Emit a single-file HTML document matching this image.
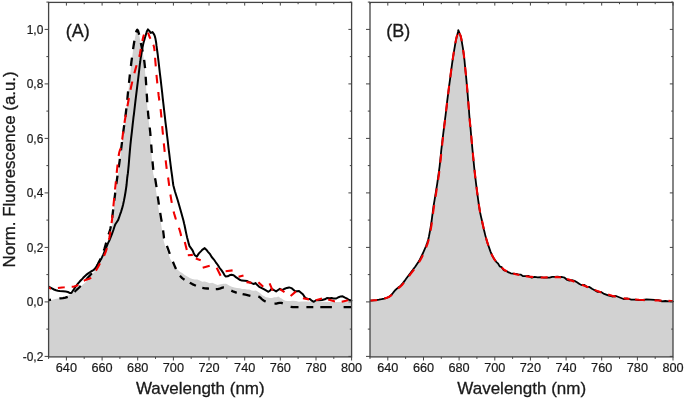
<!DOCTYPE html>
<html><head><meta charset="utf-8"><title>Normalized fluorescence</title>
<style>html,body{margin:0;padding:0;background:#fff}svg{display:block;filter:grayscale(0)}.t{stroke:#1a1a1a;stroke-width:.2px}.l{stroke:#1a1a1a;stroke-width:.3px}text{font-family:"Liberation Sans",Arial,sans-serif;fill:#1a1a1a}</style></head><body>
<svg width="685" height="402" viewBox="0 0 685 402">
<rect width="685" height="402" fill="#fff"/>
<polygon fill="#d2d2d2" points="48.6,356.9 48.6,300.6 52.7,299.7 55.4,299.1 58.0,298.5 60.4,297.9 62.9,297.4 65.4,296.7 67.9,295.7 70.4,294.3 72.9,292.6 75.4,290.7 77.9,288.7 80.4,286.7 82.9,284.6 85.3,282.4 87.8,279.8 90.4,276.8 93.0,273.5 95.5,270.1 97.8,266.8 99.7,263.6 101.4,260.5 102.9,257.3 104.3,254.0 105.5,250.6 106.6,247.1 107.6,243.6 108.6,240.0 109.6,236.6 110.6,233.2 111.5,229.5 112.3,225.0 113.0,219.3 113.6,212.8 114.2,206.1 114.8,200.0 115.4,194.8 116.0,190.0 116.6,185.2 117.3,180.0 118.1,174.0 118.9,167.6 119.8,161.2 120.6,155.0 121.3,149.3 122.0,143.9 122.6,138.5 123.3,133.0 124.1,127.4 124.9,121.7 125.7,115.9 126.4,110.0 127.1,103.8 127.7,97.5 128.4,91.2 129.0,85.0 129.6,79.0 130.3,73.2 130.9,67.5 131.6,62.0 132.3,56.6 132.9,51.3 133.6,46.4 134.3,42.0 135.0,37.8 135.8,33.8 136.5,30.9 138.1,30.9 138.9,33.8 139.7,37.8 140.5,42.0 141.4,46.4 142.4,51.3 143.4,56.6 144.2,62.0 144.8,67.5 145.2,73.2 145.6,79.0 146.0,85.0 146.4,91.2 146.8,97.5 147.1,103.8 147.6,110.0 148.1,115.6 148.7,120.8 149.4,126.3 150.0,133.0 150.7,141.9 151.4,152.3 152.2,162.3 152.8,170.0 153.3,174.0 154.1,177.1 154.6,180.0 155.3,185.2 156.2,191.6 157.1,198.4 158.0,205.0 159.0,211.6 160.1,218.4 161.2,224.8 162.0,230.0 162.5,233.6 162.8,236.1 163.1,238.0 163.5,240.0 164.0,242.0 165.0,245.6 165.9,247.9 167.1,251.0 168.6,254.2 170.2,258.8 171.9,261.7 173.7,264.9 175.7,267.9 177.7,269.7 179.9,271.8 182.2,273.1 184.7,275.0 187.3,276.6 189.8,278.0 192.3,279.1 194.8,279.4 197.3,279.6 199.8,280.4 202.3,281.8 204.8,281.4 207.2,282.2 209.7,283.2 212.3,282.7 215.1,284.0 217.6,285.0 219.7,284.4 221.9,284.0 223.6,283.8 226.2,283.8 229.6,285.7 231.8,286.8 234.4,287.5 237.0,288.0 239.6,288.3 242.1,289.1 244.7,289.1 247.1,289.4 249.5,289.5 251.8,290.4 253.9,290.7 255.9,290.6 257.7,291.5 260.0,293.0 262.3,295.2 264.0,296.0 265.9,297.2 267.9,297.5 269.9,298.0 272.0,298.1 274.2,297.2 276.4,297.3 278.4,296.4 280.1,297.8 281.7,298.5 283.3,299.7 285.3,300.8 287.6,301.1 290.1,301.1 292.9,300.7 296.0,300.9 298.9,301.8 301.8,301.6 305.6,301.6 311.3,301.7 320.6,301.8 332.4,302.0 343.8,302.1 351.6,302.2 351.6,302.2 351.6,356.9"/>
<path fill="none" stroke="#000" stroke-width="2.30" stroke-linejoin="round" d="M48.6,300.0L50.3,299.8L51.0,299.7M59.4,298.4L60.4,298.3L62.9,298.1L65.4,297.6L67.7,296.8M74.5,291.8L75.4,291.0L77.9,288.7L80.4,286.2L80.7,285.9M86.3,279.6L87.8,277.8L89.9,275.4L91.9,273.2M96.7,266.2L97.8,264.2L99.8,260.2L100.5,258.6M103.8,250.7L104.6,248.4L105.6,244.8L106.2,242.6M108.6,234.5L109.4,232.2L110.3,229.1L110.9,226.3M112.2,217.9L112.8,212.9L113.2,209.4M114.2,201.0L114.3,200.0L115.0,194.8L115.2,192.6M116.3,184.1L116.9,180.0L117.5,175.7M118.7,167.3L119.6,161.2L119.9,158.9M121.0,150.4L121.1,149.3L121.8,143.9L122.0,142.0M123.0,133.6L123.1,133.0L123.9,127.4L124.2,125.1M125.3,116.7L125.5,115.9L126.2,110.0L126.4,108.3M127.3,99.8L127.5,97.5L128.1,91.4M129.0,82.9L129.4,79.0L129.9,74.5M130.9,66.0L131.4,62.0L132.0,57.6M133.1,49.2L133.5,46.4L134.2,42.0L134.4,40.8M136.1,32.4L136.5,30.9L137.3,29.7L138.1,30.9L138.9,33.8L139.1,34.8M140.8,43.1L141.6,46.4L142.6,51.3L142.6,51.4M144.1,59.8L144.4,62.0L145.0,67.5L145.1,68.2M145.7,76.7L145.8,79.0L146.2,85.0L146.2,85.2M146.7,93.7L147.0,97.5L147.2,102.2M147.9,110.6L148.3,115.6L148.8,119.1M149.7,127.5L150.3,133.0L150.5,136.0M151.2,144.5L151.8,152.3L151.9,152.9M152.5,161.4L152.6,162.3L153.3,169.9M155.0,178.2L155.4,180.0L156.2,185.2L156.5,187.2M157.7,196.3L158.0,198.4L158.9,204.6M160.2,212.9L161.1,218.4L161.7,221.7M163.1,230.4L163.5,233.7L163.8,236.2L164.0,238.1L164.1,238.4M166.9,245.9L168.1,249.2L169.6,253.3L169.8,253.9M172.9,261.8L174.5,265.6L176.0,269.0M179.9,275.8L182.2,278.1L184.5,279.7M189.8,282.7L192.3,284.1L194.8,285.3L195.9,285.8M202.3,287.9L204.9,288.3L207.4,288.5L209.0,288.6M215.8,289.2L217.7,289.1L219.7,288.7L221.6,287.9L223.6,287.4L223.9,287.4M231.3,290.6L233.6,291.7L236.3,292.6L236.8,292.7M242.6,294.1L245.5,294.7L248.3,295.3L250.4,295.8M258.3,296.5L259.2,296.8L260.3,297.6L261.5,298.8L262.9,300.0L264.6,301.1L265.7,301.5M274.5,303.7L276.4,303.6L278.0,303.2L279.6,302.8L281.4,302.9L282.8,303.4M290.6,306.8L292.9,307.2L295.2,307.2L297.5,307.2L298.5,307.2M306.4,307.2L311.3,307.2L313.3,307.2M320.3,307.2L331.9,307.2M343.6,307.2L351.5,307.2"/>
<polyline fill="none" stroke="#000" stroke-width="2.00" stroke-linejoin="round" points="48.6,286.7 51.9,288.4 54.0,289.5 56.0,290.3 57.8,290.7 59.7,291.0 63.0,291.3 65.7,291.6 67.9,292.0 69.6,292.9 71.4,293.0 72.9,290.7 75.1,287.5 76.4,285.6 77.9,283.7 79.5,281.8 81.4,279.8 83.2,277.8 84.8,276.2 86.2,274.9 88.6,273.1 91.0,271.5 93.4,270.2 94.8,268.8 96.4,266.7 98.2,264.0 100.0,261.0 101.7,257.9 103.4,254.4 105.0,250.5 106.5,246.8 107.7,243.9 108.5,242.1 109.5,240.2 110.6,237.4 111.3,235.7 112.0,233.9 112.7,232.0 113.4,230.0 114.1,227.8 114.8,225.7 115.5,224.0 116.7,222.2 118.2,219.9 119.0,217.7 120.3,213.8 121.2,211.3 122.1,208.4 123.0,205.0 123.9,200.9 124.8,196.2 125.6,191.5 126.2,187.5 126.6,184.5 126.8,182.2 127.0,180.1 127.2,178.0 127.6,175.0 127.9,173.2 128.2,170.0 128.7,164.9 129.2,158.6 129.8,151.6 130.4,145.0 131.1,138.4 131.9,131.6 132.6,125.2 133.2,120.0 133.5,117.1 133.9,114.3 134.4,110.0 135.4,101.4 136.8,89.9 138.2,78.5 139.2,70.0 139.7,65.7 139.9,63.9 140.2,62.0 140.6,58.7 141.2,55.0 141.6,52.6 142.0,49.9 142.6,47.1 143.1,44.5 143.7,42.0 144.4,39.6 145.1,37.3 145.7,35.3 146.3,33.4 146.8,31.5 147.9,29.4 149.3,30.9 150.8,33.0 152.5,32.0 154.2,34.6 154.9,36.4 155.4,38.4 155.8,40.6 156.2,43.0 156.5,45.7 156.9,48.6 157.3,51.5 157.7,54.4 158.1,57.8 158.6,62.0 159.2,67.3 159.9,73.3 160.7,79.8 161.4,86.0 162.1,92.0 162.7,97.9 163.4,103.9 164.1,110.0 164.8,116.2 165.5,122.4 166.3,128.7 167.0,135.0 167.8,141.4 168.5,147.8 169.3,154.1 170.0,160.0 170.7,165.6 171.4,171.1 172.1,176.0 172.6,180.0 172.9,182.5 173.3,185.2 173.9,187.5 174.9,191.2 176.3,195.7 177.8,200.5 179.1,205.0 180.3,209.2 181.5,213.4 182.6,217.4 183.5,220.8 184.1,223.5 184.6,225.5 185.0,227.5 185.5,230.0 186.2,233.4 187.1,237.4 188.0,240.7 188.8,243.9 189.5,246.1 191.0,248.1 192.7,250.6 193.7,253.2 194.8,255.2 196.8,256.6 198.9,253.4 201.1,251.1 202.2,249.8 204.7,248.1 206.3,249.7 208.0,251.8 209.8,253.8 211.7,257.0 213.7,259.3 215.8,262.3 217.8,265.0 219.7,268.0 221.4,270.2 222.9,272.3 224.3,274.8 225.6,276.5 227.7,276.3 229.5,275.3 231.4,274.8 233.6,275.3 236.2,277.4 237.8,278.4 239.6,279.8 241.9,280.6 244.7,280.8 247.3,281.1 249.5,282.3 252.2,283.4 253.8,284.0 255.4,283.0 256.8,284.6 259.2,286.8 261.3,287.8 263.8,289.2 266.4,290.7 268.4,291.8 270.2,290.5 271.5,288.9 273.8,290.0 276.1,291.4 278.1,290.0 279.9,288.8 282.2,290.1 284.8,288.7 286.8,287.9 289.1,287.4 291.4,288.1 293.4,289.8 295.2,291.3 297.1,291.3 299.0,291.0 301.0,292.7 302.9,294.3 304.4,296.6 305.9,298.1 307.8,299.0 309.8,299.0 311.3,300.3 313.8,301.8 316.1,300.2 318.9,300.2 322.1,299.9 324.8,299.3 326.9,298.1 329.8,298.2 331.6,298.0 333.4,298.5 336.3,298.5 338.6,297.2 340.7,296.4 342.6,296.3 345.0,297.6 346.6,298.3 349.2,300.0 351.5,300.4 351.5,300.2"/>
<path fill="none" stroke="#f00000" stroke-width="2.10" stroke-linejoin="round" d="M48.6,287.3L49.1,287.6L49.8,288.1L50.7,288.5L51.0,288.5M57.9,288.0L60.0,287.7L62.0,287.5L64.0,287.3L64.7,287.2M71.7,286.8L72.0,286.8L73.9,286.6L75.9,286.1L77.9,285.0L78.2,284.8M83.8,280.7L85.7,279.9L87.5,279.3L89.2,278.8L90.8,277.8L91.0,277.6M95.9,270.6L97.0,268.7L98.3,266.5L99.5,264.2L99.9,263.3M104.0,255.8L104.5,254.7L105.7,251.9L106.7,248.8L106.9,248.0M108.9,239.7L109.3,238.0L110.1,233.8L110.4,231.5M111.6,223.1L112.0,220.0L112.5,215.1L112.6,214.8M113.4,206.3L113.5,205.0L114.0,200.0L114.2,198.0M115.0,189.5L115.5,185.3L115.9,181.3M116.7,172.8L117.3,167.2L117.6,164.5M118.6,156.0L118.7,155.5L119.3,152.2L119.9,150.3L120.6,148.3L120.7,147.9M122.1,139.6L122.2,139.5L123.1,132.7L123.3,131.3M124.5,122.9L124.9,120.0L125.6,116.1L125.8,114.6M127.4,106.3L128.1,102.5L128.9,98.0M130.5,89.7L131.0,87.2L132.2,82.0L132.3,81.5M134.4,73.3L134.8,71.6L136.0,67.3L136.6,65.2M139.2,57.1L139.3,56.7L139.7,54.9L140.0,53.5L140.2,52.2L140.5,50.6L140.8,48.9M142.4,41.0L142.5,40.2L143.0,38.0L143.5,36.0L144.0,34.6M148.1,32.7L148.5,33.8L149.1,35.7L149.7,37.3L150.4,38.6L150.5,38.8M153.3,44.8L153.4,45.0L153.9,46.5L154.3,48.6L154.6,51.2M155.1,57.8L155.1,58.0L155.4,62.0L155.8,66.3M156.5,74.9L156.7,77.2L157.2,82.2L157.3,83.4M158.3,92.0L158.7,95.9L159.2,99.7L159.3,100.5M160.6,109.1L160.7,110.0L161.3,116.1L161.4,117.5M162.2,126.2L162.7,132.0L163.0,134.7M163.8,143.3L164.3,148.0L164.7,151.8M165.7,160.4L166.1,164.0L166.7,168.9M168.1,177.5L168.3,178.8L168.8,182.6L169.2,185.9M170.4,194.5L170.7,196.3L171.4,200.7L171.8,202.9M173.6,211.4L174.2,213.8L175.6,218.4L176.0,219.5M178.9,227.8L180.0,231.3L180.8,234.3L181.1,236.0"/>
<path fill="none" stroke="#f00000" stroke-width="2.10" stroke-linejoin="round" d="M184.8,241.9L186.8,249.9M187.8,255.3L192.8,254.9M195.8,258.5L200.7,260.2M202.7,267.8L209.7,265.8M216.7,267.8L220.6,275.8M225.6,271.2L232.6,270.4M238.6,276.8L243.5,275.4M246.5,282.1L251.5,282.7M258.4,282.3L263.2,286.8M269.6,283.3L272.7,290.7M279.9,289.1L284.5,292.2M290.6,296.0L296.0,291.4M302.9,298.3L309.0,299.4M315.9,300.2L322.0,298.6M328.2,299.5L335.0,301.4M341.7,301.7L348.1,300.2"/>
<rect x="48.6" y="2.4" width="303.0" height="354.5" fill="none" stroke="#444444" stroke-width="1.3"/>
<path d="M48.6,356.9v2.0M48.6,2.4v1.8M66.4,356.9v3.6M66.4,2.4v3.2M84.2,356.9v2.0M84.2,2.4v1.8M102.1,356.9v3.6M102.1,2.4v3.2M119.9,356.9v2.0M119.9,2.4v1.8M137.7,356.9v3.6M137.7,2.4v3.2M155.5,356.9v2.0M155.5,2.4v1.8M173.4,356.9v3.6M173.4,2.4v3.2M191.2,356.9v2.0M191.2,2.4v1.8M209.0,356.9v3.6M209.0,2.4v3.2M226.8,356.9v2.0M226.8,2.4v1.8M244.7,356.9v3.6M244.7,2.4v3.2M262.5,356.9v2.0M262.5,2.4v1.8M280.3,356.9v3.6M280.3,2.4v3.2M298.1,356.9v2.0M298.1,2.4v1.8M316.0,356.9v3.6M316.0,2.4v3.2M333.8,356.9v2.0M333.8,2.4v1.8M351.6,356.9v3.6M351.6,2.4v3.2M48.6,356.4h-4.0M351.6,356.4h-3.2M48.6,329.1h-2.2M351.6,329.1h-1.8M48.6,301.9h-4.0M351.6,301.9h-3.2M48.6,274.6h-2.2M351.6,274.6h-1.8M48.6,247.4h-4.0M351.6,247.4h-3.2M48.6,220.1h-2.2M351.6,220.1h-1.8M48.6,192.9h-4.0M351.6,192.9h-3.2M48.6,165.6h-2.2M351.6,165.6h-1.8M48.6,138.4h-4.0M351.6,138.4h-3.2M48.6,111.1h-2.2M351.6,111.1h-1.8M48.6,83.9h-4.0M351.6,83.9h-3.2M48.6,56.6h-2.2M351.6,56.6h-1.8M48.6,29.4h-4.0M351.6,29.4h-3.2M48.6,2.1h-2.2M351.6,2.1h-1.8" stroke="#444444" stroke-width="1" fill="none"/>
<text x="66.4" y="371.8" font-size="12.7" class="t" text-anchor="middle">640</text>
<text x="102.1" y="371.8" font-size="12.7" class="t" text-anchor="middle">660</text>
<text x="137.7" y="371.8" font-size="12.7" class="t" text-anchor="middle">680</text>
<text x="173.4" y="371.8" font-size="12.7" class="t" text-anchor="middle">700</text>
<text x="209.0" y="371.8" font-size="12.7" class="t" text-anchor="middle">720</text>
<text x="244.7" y="371.8" font-size="12.7" class="t" text-anchor="middle">740</text>
<text x="280.3" y="371.8" font-size="12.7" class="t" text-anchor="middle">760</text>
<text x="316.0" y="371.8" font-size="12.7" class="t" text-anchor="middle">780</text>
<text x="351.6" y="371.8" font-size="12.7" class="t" text-anchor="middle">800</text>
<text transform="translate(43.3,360.8) scale(0.94,1)" font-size="12.7" class="t" text-anchor="end">-0,2</text>
<text transform="translate(43.3,306.3) scale(0.94,1)" font-size="12.7" class="t" text-anchor="end">0,0</text>
<text transform="translate(43.3,251.8) scale(0.94,1)" font-size="12.7" class="t" text-anchor="end">0,2</text>
<text transform="translate(43.3,197.3) scale(0.94,1)" font-size="12.7" class="t" text-anchor="end">0,4</text>
<text transform="translate(43.3,142.8) scale(0.94,1)" font-size="12.7" class="t" text-anchor="end">0,6</text>
<text transform="translate(43.3,88.3) scale(0.94,1)" font-size="12.7" class="t" text-anchor="end">0,8</text>
<text transform="translate(43.3,33.8) scale(0.94,1)" font-size="12.7" class="t" text-anchor="end">1,0</text>
<text x="200.3" y="394.3" font-size="17" class="l" text-anchor="middle">Wavelength (nm)</text>
<polygon fill="#d2d2d2" points="370.0,356.9 370.0,300.6 371.6,300.5 373.9,300.3 376.5,300.1 379.0,299.7 381.6,299.2 384.3,298.6 387.0,297.8 389.3,296.7 391.3,295.2 393.0,293.3 394.6,291.4 396.2,289.7 397.7,288.4 399.2,287.3 400.6,286.1 402.1,284.7 403.6,282.9 405.1,280.9 406.6,278.8 408.2,276.8 409.7,274.8 411.2,272.9 412.7,270.9 414.2,268.8 415.7,266.7 417.3,264.5 418.7,262.2 420.1,259.9 421.4,257.5 422.6,255.0 423.8,252.4 424.8,249.9 425.8,247.5 426.7,245.3 427.6,242.8 428.4,240.0 429.2,236.7 430.0,233.0 430.7,229.1 431.4,225.0 431.9,221.0 432.4,217.1 433.0,212.6 433.7,207.0 434.9,199.9 436.2,191.8 437.5,183.1 438.8,174.7 439.8,166.5 440.7,158.2 441.5,150.0 442.4,142.3 443.2,134.9 444.1,127.7 444.9,121.0 445.6,115.0 446.2,110.0 446.7,105.8 447.2,101.8 447.7,97.2 448.4,91.9 449.1,86.1 449.9,80.3 450.6,74.8 451.3,69.5 452.0,64.4 452.7,59.5 453.4,54.9 454.1,50.6 454.8,46.6 455.4,43.0 456.0,39.9 456.5,37.6 457.0,35.8 457.4,34.4 457.7,33.2 458.0,32.0 458.1,30.9 458.3,30.1 458.5,29.8 458.7,30.2 458.9,31.0 459.1,32.1 459.4,33.2 459.7,33.9 460.1,34.6 460.5,35.6 461.0,37.4 461.6,40.3 462.2,44.1 462.9,48.2 463.5,52.4 464.0,56.4 464.5,60.5 464.9,64.9 465.4,69.8 466.0,75.6 466.6,82.1 467.2,88.6 467.7,94.7 468.1,99.9 468.5,104.7 468.9,109.5 469.3,115.0 469.8,121.2 470.5,127.9 471.1,135.0 471.8,142.3 472.5,150.0 473.3,158.2 474.1,166.5 475.0,174.7 476.0,183.2 477.1,191.9 478.2,200.1 479.2,207.0 480.1,212.4 481.0,216.6 481.8,220.0 482.5,223.2 483.1,225.9 483.6,228.1 484.0,230.0 484.5,232.0 485.0,234.1 485.5,236.1 486.1,238.3 486.9,240.9 487.9,244.2 489.2,247.9 490.5,251.6 491.9,254.9 493.3,257.5 494.7,259.8 496.2,261.8 497.9,263.8 499.7,265.8 501.6,267.6 503.6,269.3 505.8,270.8 508.2,271.9 510.7,272.8 513.3,273.5 515.8,274.2 518.2,274.8 520.6,275.3 523.1,275.8 525.7,276.2 528.6,276.6 531.6,276.9 534.7,277.2 537.7,277.4 540.7,277.5 543.8,277.5 546.8,277.4 549.6,277.4 552.2,277.3 554.7,277.1 557.2,277.1 559.6,277.2 562.1,277.6 564.6,278.2 567.0,279.0 569.5,279.8 572.0,280.7 574.5,281.7 577.0,282.7 579.5,283.7 581.9,284.7 584.4,285.7 586.8,286.7 589.4,287.7 592.0,288.8 594.7,289.9 597.6,291.1 600.7,292.2 604.2,293.4 608.1,294.6 612.1,295.8 616.0,296.8 619.8,297.6 623.6,298.2 627.5,298.7 631.3,299.1 635.1,299.5 638.9,299.8 642.8,300.0 646.6,300.2 650.5,300.3 654.6,300.4 658.5,300.5 662.0,300.6 665.3,300.7 668.5,300.9 671.1,301.0 673.0,301.1 673.0,356.9"/>
<polyline fill="none" stroke="#000" stroke-width="1.80" stroke-linejoin="round" points="370.0,300.6 373.9,300.3 376.5,300.1 379.0,299.7 381.6,299.2 384.2,298.6 386.8,297.8 389.1,296.7 391.0,295.2 392.7,293.3 394.2,291.4 395.7,289.7 397.2,288.4 398.6,287.3 400.1,286.1 401.6,284.7 403.1,282.9 404.6,280.9 406.1,278.8 407.6,276.8 409.1,274.8 410.6,272.9 412.1,270.9 413.6,268.8 415.2,266.7 416.7,264.5 418.2,262.2 419.6,259.9 420.9,257.5 422.1,255.0 423.3,252.4 424.4,249.9 425.4,247.5 426.3,245.3 427.2,242.8 428.1,240.0 428.9,236.7 429.6,233.0 430.3,229.1 431.0,225.0 431.6,221.0 432.1,217.1 432.7,212.6 433.4,207.0 434.6,199.9 435.9,191.8 437.3,183.1 438.5,174.7 439.6,166.5 440.5,158.2 441.3,150.0 442.2,142.3 443.1,134.9 444.0,127.7 444.8,121.0 445.6,115.0 446.2,110.0 446.7,105.8 447.1,101.8 447.7,97.2 448.4,91.9 449.1,86.1 449.9,80.3 450.6,74.8 451.3,69.5 452.0,64.4 452.7,59.5 453.4,54.9 454.1,50.6 454.8,46.6 455.4,43.0 456.0,39.9 456.5,37.6 457.4,34.4 458.0,32.0 458.3,30.1 459.1,32.1 459.7,33.9 460.5,35.6 461.0,37.4 461.6,40.3 462.2,44.1 462.9,48.2 463.5,52.4 464.0,56.4 464.5,60.5 464.9,64.9 465.4,69.8 466.0,75.6 466.6,82.1 467.2,88.6 467.7,94.7 468.1,99.9 468.5,104.7 468.9,109.5 469.3,115.0 469.8,121.2 470.5,127.9 471.1,135.0 471.8,142.3 472.5,150.0 473.3,158.2 474.1,166.5 475.0,174.7 476.0,183.2 477.1,191.9 478.2,200.1 479.2,207.0 480.1,212.4 481.0,216.6 481.8,220.0 482.5,223.2 483.1,225.9 483.6,228.1 484.0,230.0 484.5,232.0 485.0,234.1 485.5,236.1 486.1,238.3 486.9,240.9 487.9,244.2 489.2,247.9 490.5,251.6 491.9,254.9 493.3,257.5 494.7,259.8 496.2,261.8 497.9,263.3 499.7,266.4 501.6,267.1 503.6,270.1 505.8,270.8 508.2,272.1 510.7,273.3 513.3,273.6 515.8,273.9 518.2,274.3 520.6,274.6 523.1,276.2 525.7,276.1 528.6,276.0 531.6,277.6 534.7,276.8 537.7,277.3 540.7,277.1 543.8,277.7 546.8,277.6 549.6,277.6 552.2,276.9 554.7,276.8 557.2,276.6 559.6,276.9 562.1,277.0 564.6,277.7 567.0,279.8 569.5,280.6 572.0,280.2 574.5,280.9 577.0,282.2 579.5,284.0 581.9,285.2 584.4,284.9 586.8,286.8 589.4,286.9 592.0,288.8 594.7,290.2 597.6,291.9 600.7,291.8 604.2,293.9 608.1,295.3 612.1,296.5 616.0,296.0 619.8,297.5 623.6,299.0 627.5,298.5 631.3,299.6 635.1,299.6 638.9,300.2 642.8,300.0 646.6,299.4 650.5,299.6 654.6,299.8 658.5,300.1 662.0,301.4 665.3,301.0 668.5,301.4 671.1,301.1 673.0,301.3 673.0,301.1"/>
<path fill="none" stroke="#f00000" stroke-width="2.10" stroke-linejoin="round" d="M370.0,300.6L371.6,300.5L373.9,300.3L376.5,300.1L377.2,300.0M384.3,298.6L384.3,298.6L387.0,297.8L389.4,296.7L391.4,295.2L391.9,294.6M398.0,288.4L399.4,287.3L400.9,286.1L402.3,284.7L403.8,282.9L404.0,282.7M409.0,276.1L409.9,274.8L411.4,272.9L413.0,270.9L414.1,269.3M419.0,262.2L419.0,262.2L420.4,259.9L421.7,257.5L422.9,255.0L422.9,255.0M426.1,247.4L426.9,245.3L427.8,242.8L428.6,240.0L428.8,239.2M430.5,230.8L430.8,229.1L431.5,225.0L431.9,222.3M433.0,213.8L433.1,212.6L433.9,207.0L434.2,205.2M435.5,196.8L436.3,191.8L436.8,188.3M438.1,179.8L438.9,174.7L439.3,171.2M440.3,162.7L440.8,158.2L441.2,154.1M442.1,145.6L442.4,142.3L443.0,137.0M444.0,128.5L444.1,127.7L444.9,121.0L445.1,120.0M446.1,111.4L446.2,110.0L446.7,105.8L447.0,102.9M448.1,94.3L448.4,91.9L449.1,86.1L449.1,85.8M450.3,77.3L450.6,74.8L451.3,69.5L451.4,68.7M452.6,60.2L452.7,59.5L453.4,54.9L453.9,51.7M455.4,43.2L455.4,43.0L456.0,39.9L456.5,37.6L457.0,35.8L457.3,34.8M459.4,33.1L459.4,33.2L459.7,33.9L460.1,34.6L460.5,35.6L461.0,37.4L461.6,40.3L461.8,41.3M463.1,49.8L463.5,52.4L464.0,56.4L464.2,58.4M465.1,67.0L465.4,69.8L466.0,75.5M466.8,84.1L467.2,88.6L467.5,92.7M468.2,101.3L468.5,104.7L468.9,109.5L468.9,109.8M469.6,118.4L469.8,121.2L470.4,127.0M471.2,135.5L471.8,142.3L472.0,144.1M472.8,152.7L473.3,158.2L473.6,161.2M474.5,169.8L475.0,174.7L475.4,178.3M476.5,186.9L477.1,191.9L477.6,195.4M478.7,203.9L479.2,207.0L480.1,212.4L480.1,212.4M482.0,220.8L482.5,223.2L483.1,225.9L483.6,228.1L483.8,229.2M485.9,237.5L486.1,238.3L486.9,240.9L487.9,244.2L488.5,245.7M491.4,253.8L491.9,254.9L493.3,257.5L494.7,259.8L495.8,261.2M501.6,267.6L503.6,269.3L505.8,270.8L507.0,271.4M513.3,273.5L515.8,274.2L518.2,274.8L519.4,275.1M525.7,276.2L528.6,276.6L531.6,276.9L533.2,277.1M540.7,277.5L543.8,277.5L546.8,277.4L547.7,277.4M554.7,277.1L557.2,277.1L559.6,277.2L561.0,277.4M567.0,279.0L569.5,279.8L572.0,280.7L574.5,281.7L574.5,281.7M581.9,284.7L584.4,285.7L586.8,286.7L588.3,287.3M594.7,289.9L597.6,291.1L600.7,292.2L601.4,292.4M608.1,294.6L612.1,295.8L615.8,296.7M623.6,298.2L627.5,298.7L629.4,298.9M635.1,299.5L638.9,299.8L642.8,300.0L644.8,300.1M654.6,300.4L658.5,300.5L661.5,300.6M668.5,300.9L671.1,301.0L673.0,301.1"/>
<rect x="370.0" y="2.4" width="303.0" height="354.5" fill="none" stroke="#444444" stroke-width="1.3"/>
<path d="M370.0,356.9v2.0M370.0,2.4v1.8M387.8,356.9v3.6M387.8,2.4v3.2M405.6,356.9v2.0M405.6,2.4v1.8M423.5,356.9v3.6M423.5,2.4v3.2M441.3,356.9v2.0M441.3,2.4v1.8M459.1,356.9v3.6M459.1,2.4v3.2M476.9,356.9v2.0M476.9,2.4v1.8M494.8,356.9v3.6M494.8,2.4v3.2M512.6,356.9v2.0M512.6,2.4v1.8M530.4,356.9v3.6M530.4,2.4v3.2M548.2,356.9v2.0M548.2,2.4v1.8M566.1,356.9v3.6M566.1,2.4v3.2M583.9,356.9v2.0M583.9,2.4v1.8M601.7,356.9v3.6M601.7,2.4v3.2M619.5,356.9v2.0M619.5,2.4v1.8M637.4,356.9v3.6M637.4,2.4v3.2M655.2,356.9v2.0M655.2,2.4v1.8M673.0,356.9v3.6M673.0,2.4v3.2M370.0,356.4h-4.0M673.0,356.4h-3.2M370.0,329.1h-2.2M673.0,329.1h-1.8M370.0,301.9h-4.0M673.0,301.9h-3.2M370.0,274.6h-2.2M673.0,274.6h-1.8M370.0,247.4h-4.0M673.0,247.4h-3.2M370.0,220.1h-2.2M673.0,220.1h-1.8M370.0,192.9h-4.0M673.0,192.9h-3.2M370.0,165.6h-2.2M673.0,165.6h-1.8M370.0,138.4h-4.0M673.0,138.4h-3.2M370.0,111.1h-2.2M673.0,111.1h-1.8M370.0,83.9h-4.0M673.0,83.9h-3.2M370.0,56.6h-2.2M673.0,56.6h-1.8M370.0,29.4h-4.0M673.0,29.4h-3.2M370.0,2.1h-2.2M673.0,2.1h-1.8" stroke="#444444" stroke-width="1" fill="none"/>
<text x="387.8" y="371.8" font-size="12.7" class="t" text-anchor="middle">640</text>
<text x="423.5" y="371.8" font-size="12.7" class="t" text-anchor="middle">660</text>
<text x="459.1" y="371.8" font-size="12.7" class="t" text-anchor="middle">680</text>
<text x="494.8" y="371.8" font-size="12.7" class="t" text-anchor="middle">700</text>
<text x="530.4" y="371.8" font-size="12.7" class="t" text-anchor="middle">720</text>
<text x="566.1" y="371.8" font-size="12.7" class="t" text-anchor="middle">740</text>
<text x="601.7" y="371.8" font-size="12.7" class="t" text-anchor="middle">760</text>
<text x="637.4" y="371.8" font-size="12.7" class="t" text-anchor="middle">780</text>
<text x="673.0" y="371.8" font-size="12.7" class="t" text-anchor="middle">800</text>
<text x="521.7" y="394.3" font-size="17" class="l" text-anchor="middle">Wavelength (nm)</text>
<text x="65.8" y="37.0" font-size="18" class="l">(A)</text>
<text x="386.3" y="36.7" font-size="18" class="l">(B)</text>
<text transform="translate(15.4,169.4) rotate(-90)" font-size="16.9" class="l" text-anchor="middle">Norm. Fluorescence (a.u.)</text>
</svg></body></html>
